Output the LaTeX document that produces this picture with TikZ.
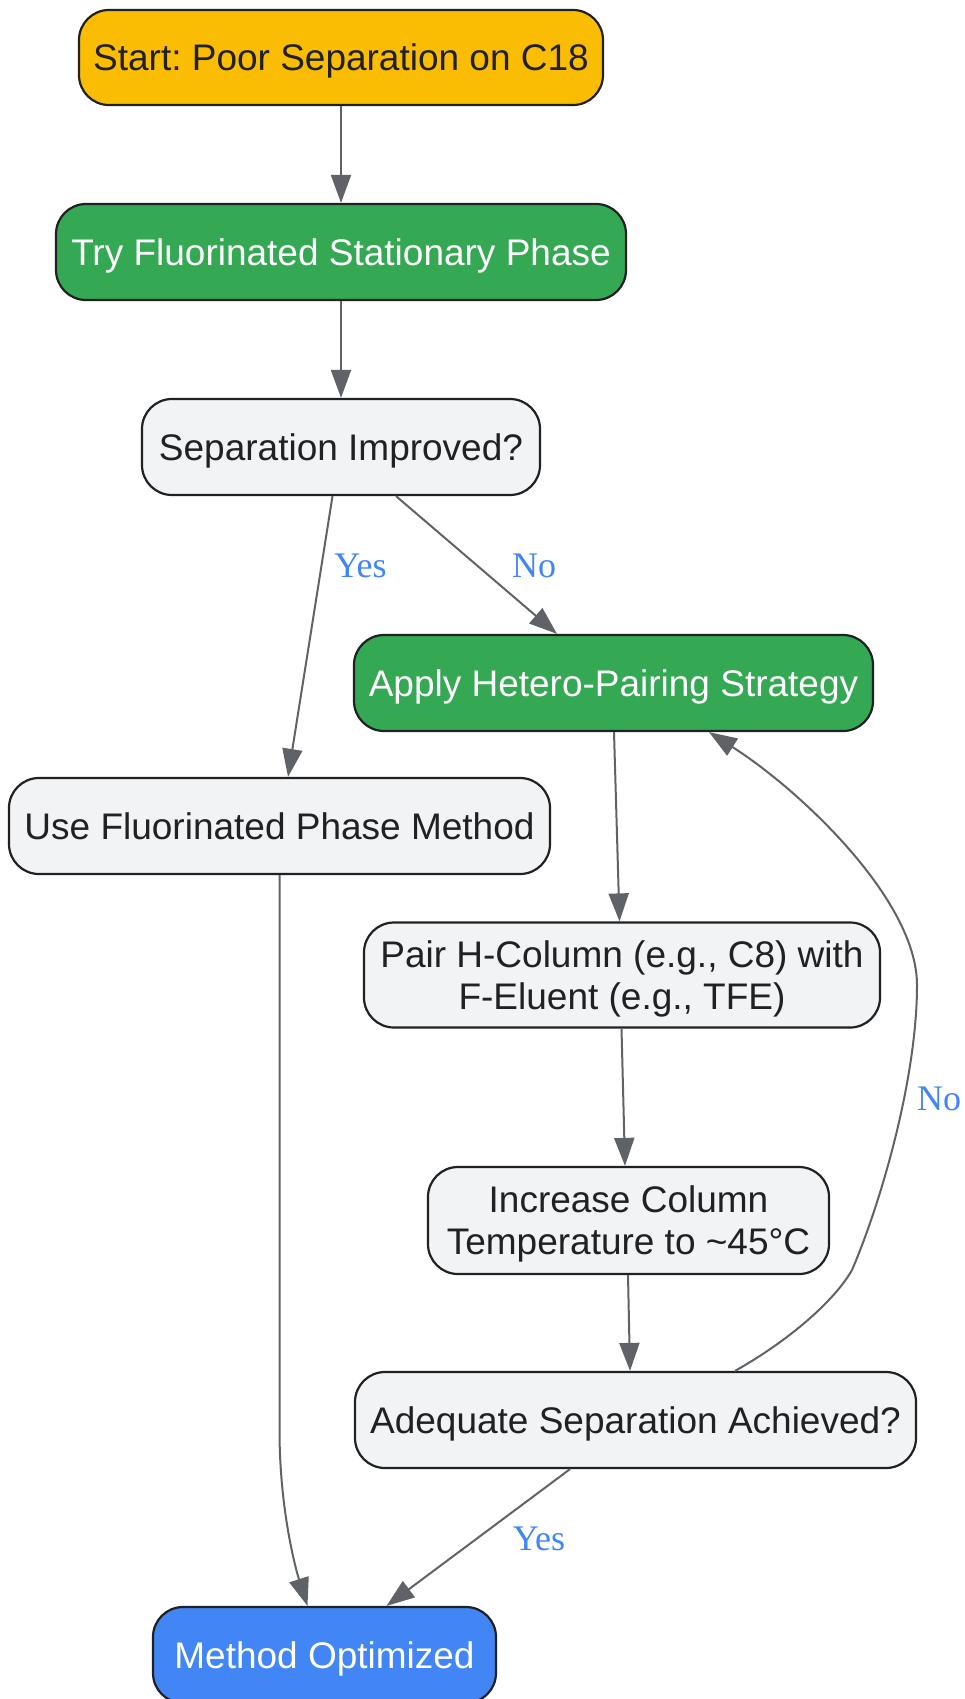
\documentclass[tikz,border=0pt]{standalone}
\usepackage{fontspec}
\setmainfont{Liberation Sans}
\newfontfamily\labelfont{Liberation Serif}
\usetikzlibrary{arrows.meta,calc}
\definecolor{cyellow}{HTML}{FBBC04}
\definecolor{cgreen}{HTML}{34A853}
\definecolor{cblue}{HTML}{4285F4}
\definecolor{cgray}{HTML}{F1F3F4}
\definecolor{cborder}{HTML}{202124}
\definecolor{cedge}{HTML}{5F6368}
\definecolor{clabel}{HTML}{4285F4}
\frenchspacing
\tikzset{
  box/.style={draw=cborder, line width=2.2pt, rounded corners=30pt, inner sep=0pt,
    align=center, font=\fontsize{37}{42}\selectfont, text=cborder, fill=cgray, text depth=0pt},
  ybox/.style={box, fill=cyellow},
  gbox/.style={box, fill=cgreen, text=white},
  bbox/.style={box, fill=cblue, text=white},
  edge/.style={draw=cedge, line width=2pt, -{Triangle[length=28pt,width=20pt]}},
  elabel/.style={text=clabel, font=\labelfont\fontsize{36}{40}\selectfont, inner sep=0pt}
}
\begin{document}
\begin{tikzpicture}[x=1pt,y=-1pt]
\useasboundingbox (0,0) rectangle (964,1699);
\node[ybox, minimum width=524pt, minimum height=95pt] (start) at (341,57.5) {Start: Poor Separation on C18};
\node[gbox, minimum width=570pt, minimum height=96pt] (try) at (341,252) {Try Fluorinated Stationary Phase};
\node[box, minimum width=398pt, minimum height=96pt] (sep) at (341,447) {Separation Improved?};
\node[gbox, minimum width=519pt, minimum height=96pt] (apply) at (613.5,683) {Apply Hetero-Pairing Strategy};
\node[box, minimum width=541pt, minimum height=96pt] (use) at (279.5,826) {Use Fluorinated Phase Method};
\node[box, minimum width=516pt, minimum height=105pt] (pair) at (622,975) {Pair H-Column (e.g., C8) with\\F-Eluent (e.g., TFE)};
\node[box, minimum width=401pt, minimum height=107pt] (inc) at (628.5,1220.5) {Increase Column\\Temperature to {\char`\~}45°C};
\node[box, minimum width=561pt, minimum height=96pt] (adeq) at (635.5,1420) {Adequate Separation Achieved?};
\node[bbox, minimum width=343pt, minimum height=96pt] (meth) at (324.5,1655) {Method Optimized};

\draw[edge] (start.south) -- (try.north);
\draw[edge] (try.south) -- (sep.north);
\draw[edge] ([xshift=-8.5pt]sep.south) -- ([xshift=8.5pt]use.north);
\draw[edge] ([xshift=55pt]sep.south) -- ([xshift=-56.5pt]apply.north);
\draw[edge] ([xshift=0.5pt]apply.south) -- ([xshift=-2.5pt]pair.north);
\draw[edge] ([xshift=-0.5pt]pair.south) -- ([xshift=-3.5pt]inc.north);
\draw[edge] ([xshift=-0.5pt]inc.south) -- ([xshift=-5.5pt]adeq.north);
\coordinate (k1) at (852,1270);
\coordinate (k2) at (917,985);
\draw[edge] ([xshift=99.5pt]adeq.north) .. controls (790,1340) and (835,1300) .. (k1)
  .. controls (880,1205) and (917,1080) .. (k2)
  .. controls (917,900) and (800,790) .. ([xshift=95.5pt]apply.south);
\coordinate (u1) at (279.5,1430);
\draw[edge] (use.south) -- (u1) .. controls (279.5,1510) and (296,1570) .. ([xshift=-17pt]meth.north);
\draw[edge] ([xshift=-65.5pt]adeq.south) -- ([xshift=62pt]meth.north);

\node[elabel] (l1) at (360.5,566) {Yes};
\node[elabel] (l2) at (534,566) {No};
\node[elabel] (l3) at (939,1099) {No};
\node[elabel] (l4) at (539,1539) {Yes};
\end{tikzpicture}
\end{document}
